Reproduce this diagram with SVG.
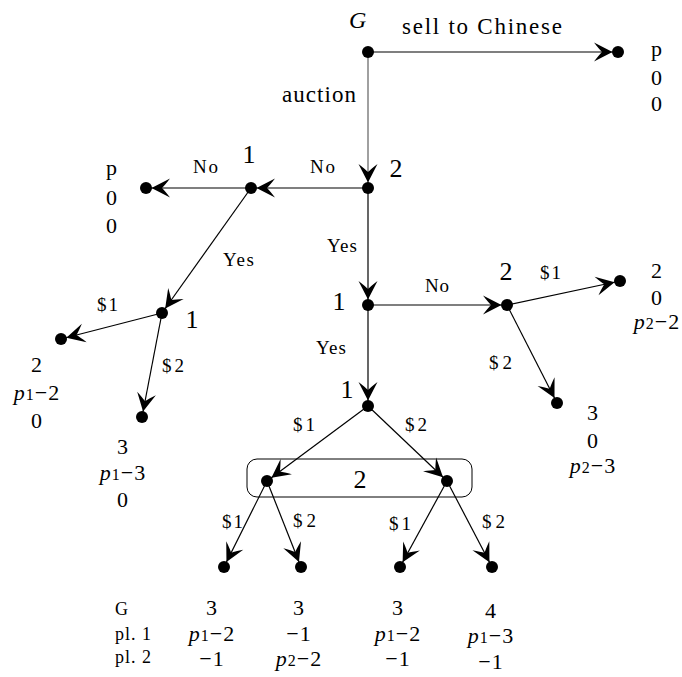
<svg xmlns="http://www.w3.org/2000/svg" width="682" height="677" viewBox="0 0 682 677">
<style>
text{font-family:"Liberation Serif","Times New Roman",serif;fill:#000}
.e{stroke:#000;stroke-width:1.2;fill:none;marker-end:url(#ah)}
.g{stroke:#808080;stroke-width:1.5;fill:none;marker-end:url(#ah)}
.lab{font-size:19px}
.nl{font-size:26px;text-anchor:middle}
.pay{font-size:22px;text-anchor:middle;letter-spacing:1px}
.sub{font-size:16px;font-style:normal}
.it{font-style:italic}
.dot{fill:#000}
</style>
<defs>
<marker id="ah" markerUnits="userSpaceOnUse" markerWidth="30" markerHeight="24" viewBox="0 0 30 24" refX="27" refY="12" orient="auto" overflow="visible">
<path d="M21.5,12 L3,2.5 Q8,9 11,12 Q8,15 3,21.5 Z" fill="#000"/>
</marker>
</defs>

<g id="connectors">
<line class="e" x1="368" y1="52" x2="618" y2="52"/>
<line class="g" x1="368" y1="52" x2="368" y2="188"/>
<line class="e" x1="368" y1="188" x2="251" y2="188"/>
<line class="e" x1="251" y1="188" x2="146" y2="188"/>
<line class="e" x1="251" y1="188" x2="162" y2="313"/>
<line class="e" x1="162" y1="313" x2="61" y2="339"/>
<line class="e" x1="162" y1="313" x2="142" y2="417"/>
<line class="e" x1="368" y1="188" x2="368" y2="305"/>
<line class="e" x1="368" y1="305" x2="507" y2="305"/>
<line class="e" x1="507" y1="305" x2="620" y2="281"/>
<line class="e" x1="507" y1="305" x2="557" y2="403"/>
<line class="e" x1="368" y1="305" x2="368" y2="406"/>
<line class="e" x1="368" y1="406" x2="267" y2="481"/>
<line class="e" x1="368" y1="406" x2="447" y2="481"/>
<line class="e" x1="267" y1="481" x2="224" y2="567"/>
<line class="e" x1="267" y1="481" x2="301" y2="567"/>
<line class="e" x1="447" y1="481" x2="400" y2="567"/>
<line class="e" x1="447" y1="481" x2="492" y2="567"/>
<rect x="247" y="459" width="225" height="38" rx="10" ry="10" fill="none" stroke="#000" stroke-width="1"/>
<text x="402" y="34" font-size="23" textLength="160" lengthAdjust="spacing">sell to Chinese</text>
<text x="282" y="102" font-size="23" textLength="74" lengthAdjust="spacing">auction</text>
<text class="lab" x="193" y="173" textLength="25" lengthAdjust="spacing">No</text>
<text class="lab" x="310" y="173" textLength="25" lengthAdjust="spacing">No</text>
<text class="lab" x="327" y="252" textLength="30" lengthAdjust="spacing">Yes</text>
<text class="lab" x="223" y="266" textLength="31" lengthAdjust="spacing">Yes</text>
<text class="lab" x="97" y="311" textLength="21" lengthAdjust="spacing">$1</text>
<text class="lab" x="162" y="372" textLength="22" lengthAdjust="spacing">$2</text>
<text class="lab" x="425" y="292" textLength="24" lengthAdjust="spacing">No</text>
<text class="lab" x="316" y="354" textLength="30" lengthAdjust="spacing">Yes</text>
<text class="lab" x="540" y="279" textLength="21" lengthAdjust="spacing">$1</text>
<text class="lab" x="489" y="369" textLength="23" lengthAdjust="spacing">$2</text>
<text class="lab" x="293" y="431" textLength="22" lengthAdjust="spacing">$1</text>
<text class="lab" x="405" y="431" textLength="22" lengthAdjust="spacing">$2</text>
<text class="lab" x="222" y="528" textLength="21" lengthAdjust="spacing">$1</text>
<text class="lab" x="293" y="527" textLength="23" lengthAdjust="spacing">$2</text>
<text class="lab" x="389" y="530" textLength="22" lengthAdjust="spacing">$1</text>
<text class="lab" x="482" y="528" textLength="23" lengthAdjust="spacing">$2</text>
</g>

<g id="n-root">
<circle class="dot" cx="368" cy="52" r="6"/>
<text x="349" y="28" font-size="24" class="it">G</text>
</g>
<g id="t-chinese">
<circle class="dot" cx="618" cy="52" r="6"/>
<text class="pay" x="657" y="56">p</text>
<text class="pay" x="657" y="85">0</text>
<text class="pay" x="657" y="111">0</text>
</g>
<g id="n-2a">
<circle class="dot" cx="368" cy="188" r="6"/>
<text class="nl" x="396" y="177">2</text>
</g>
<g id="n-1a">
<circle class="dot" cx="251" cy="188" r="6"/>
<text class="nl" x="249" y="163">1</text>
</g>
<g id="t-left">
<circle class="dot" cx="146" cy="188" r="6"/>
<text class="pay" x="112" y="175">p</text>
<text class="pay" x="112" y="205">0</text>
<text class="pay" x="112" y="233">0</text>
</g>
<g id="n-1b">
<circle class="dot" cx="162" cy="313" r="6"/>
<text class="nl" x="192" y="328">1</text>
</g>
<g id="t-1b-1">
<circle class="dot" cx="61" cy="339" r="6"/>
<text class="pay" x="37" y="372">2</text>
<text class="pay" x="37" y="400"><tspan class="it">p</tspan><tspan class="sub">1</tspan>−2</text>
<text class="pay" x="37" y="428">0</text>
</g>
<g id="t-1b-2">
<circle class="dot" cx="142" cy="417" r="6"/>
<text class="pay" x="123" y="454">3</text>
<text class="pay" x="123" y="480"><tspan class="it">p</tspan><tspan class="sub">1</tspan>−3</text>
<text class="pay" x="123" y="507">0</text>
</g>
<g id="n-1c">
<circle class="dot" cx="368" cy="305" r="6"/>
<text class="nl" x="339" y="310">1</text>
</g>
<g id="n-2b">
<circle class="dot" cx="507" cy="305" r="6"/>
<text class="nl" x="506" y="280">2</text>
</g>
<g id="t-2b-1">
<circle class="dot" cx="620" cy="281" r="6"/>
<text class="pay" x="657" y="278">2</text>
<text class="pay" x="657" y="305">0</text>
<text class="pay" x="657" y="329"><tspan class="it">p</tspan><tspan class="sub">2</tspan>−2</text>
</g>
<g id="t-2b-2">
<circle class="dot" cx="557" cy="403" r="6"/>
<text class="pay" x="593" y="420">3</text>
<text class="pay" x="593" y="448">0</text>
<text class="pay" x="593" y="473"><tspan class="it">p</tspan><tspan class="sub">2</tspan>−3</text>
</g>
<g id="n-1d">
<circle class="dot" cx="368" cy="406" r="6"/>
<text class="nl" x="347" y="398">1</text>
</g>
<g id="n-2c-infoset">
<circle class="dot" cx="267" cy="481" r="6"/>
<circle class="dot" cx="447" cy="481" r="6"/>
<text class="nl" x="360" y="488">2</text>
</g>
<g id="legend">
<text x="115" y="615" font-size="18" letter-spacing="1">G</text>
<text x="115" y="640" font-size="18" letter-spacing="1">pl. 1</text>
<text x="115" y="663" font-size="18" letter-spacing="1">pl. 2</text>
</g>
<g id="t-a">
<circle class="dot" cx="224" cy="567" r="6"/>
<text class="pay" x="212" y="615">3</text>
<text class="pay" x="212" y="641"><tspan class="it">p</tspan><tspan class="sub">1</tspan>−2</text>
<text class="pay" x="212" y="666">−1</text>
</g>
<g id="t-b">
<circle class="dot" cx="301" cy="567" r="6"/>
<text class="pay" x="299" y="615">3</text>
<text class="pay" x="299" y="641">−1</text>
<text class="pay" x="299" y="666"><tspan class="it">p</tspan><tspan class="sub">2</tspan>−2</text>
</g>
<g id="t-c">
<circle class="dot" cx="400" cy="567" r="6"/>
<text class="pay" x="398" y="615">3</text>
<text class="pay" x="398" y="641"><tspan class="it">p</tspan><tspan class="sub">1</tspan>−2</text>
<text class="pay" x="398" y="666">−1</text>
</g>
<g id="t-d">
<circle class="dot" cx="492" cy="567" r="6"/>
<text class="pay" x="491" y="618">4</text>
<text class="pay" x="491" y="643"><tspan class="it">p</tspan><tspan class="sub">1</tspan>−3</text>
<text class="pay" x="491" y="669">−1</text>
</g>
</svg>
